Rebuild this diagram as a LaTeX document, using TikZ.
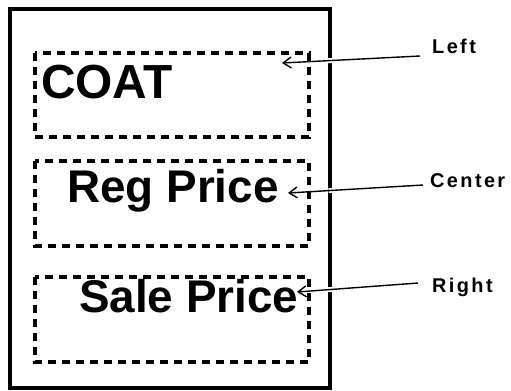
\documentclass[tikz,border=0pt]{standalone}
\usepackage{fontspec}
\setmainfont{Liberation Sans}
\newfontfamily\lblfont[LetterSpace=12]{Liberation Sans Bold}
\usetikzlibrary{arrows.meta,calc}
\begin{document}
\begin{tikzpicture}[x=1bp,y=-1bp,
  frame/.style={draw=black, line width=3.5bp},
  zonebox/.style={draw=black, line width=3.2bp, dash pattern=on 8bp off 6bp},
  bigtxt/.style={anchor=base west, inner sep=0pt, font=\fontsize{46}{50}\selectfont\bfseries},
  lbltxt/.style={anchor=base west, inner sep=0pt, font=\lblfont\fontsize{20}{22}\selectfont},
  ptr/.style={draw=black, line width=1.4bp, -{Straight Barb[length=8bp,width=11bp,line width=1.4bp]}},
  halo/.style={draw=white, line width=5bp}]
\useasboundingbox (0,0) rectangle (511,390);
\fill[white] (0,0) rectangle (511,390);
% outer frame
\draw[frame] (10,9) rectangle (330,388);
% dashed zones
\draw[zonebox] (35,53) rectangle (309,137);
\draw[zonebox] (35,161) rectangle (309,246);
\draw[zonebox] (35,277) rectangle (309,362);
% big texts
\node[bigtxt, font=\fontsize{48}{50}\selectfont\bfseries] (coat) at (41,98) {COAT};
\node[bigtxt] (reg) at (67,202) {Reg Price};
\node[bigtxt] (sale) at (79,312) {Sale Price};
% labels
\node[lbltxt] (lL) at (432,53) {Left};
\node[lbltxt] (lC) at (430,187) {Center};
\node[lbltxt] (lR) at (432,292) {Right};
% arrow endpoints
\coordinate (t1) at (420,56);  \coordinate (h1) at (282,63);
\coordinate (t2) at (423,185); \coordinate (h2) at (288,193);
\coordinate (t3) at (418,283); \coordinate (h3) at (297,292);
% halos breaking the frame
\draw[halo] ($(t1)!0.6!(h1)$) -- ($(t1)!0.7!(h1)$);
\draw[halo] ($(t2)!0.6!(h2)$) -- ($(t2)!0.7!(h2)$);
\draw[halo] ($(t3)!0.64!(h3)$) -- ($(t3)!0.77!(h3)$);
% arrows
\draw[ptr] (t1) -- (h1);
\draw[ptr] (t2) -- (h2);
\draw[ptr] (t3) -- (h3);
\end{tikzpicture}
\end{document}
